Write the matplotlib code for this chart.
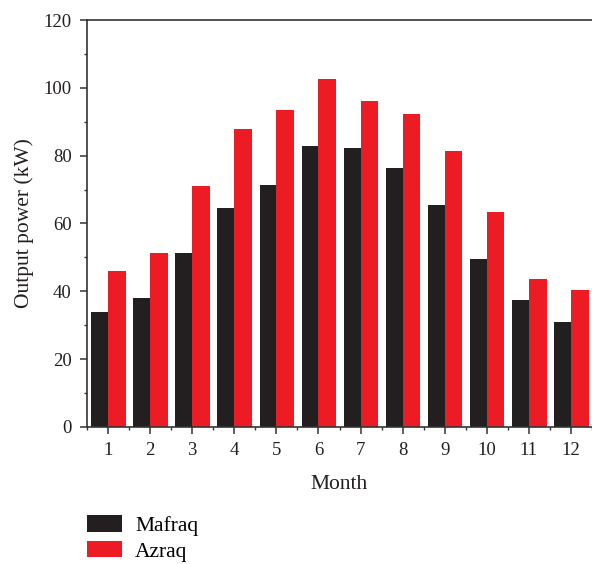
import numpy as np
import matplotlib
matplotlib.use("Agg")
import matplotlib.pyplot as plt
from matplotlib.ticker import MultipleLocator

# dane
months = [1, 2, 3, 4, 5, 6, 7, 8, 9, 10, 11, 12]
mafraq = [33.9, 38.0, 51.3, 64.6, 71.3, 82.8, 82.3, 76.4, 65.4, 49.5, 37.4, 31.0]
azraq = [46.0, 51.3, 71.0, 87.9, 93.5, 102.6, 96.1, 92.3, 81.4, 63.4, 43.6, 40.4]

plt.rcParams["font.family"] = ["Liberation Serif", "DejaVu Serif"]

fig = plt.figure(figsize=(5.92, 5.64), dpi=100)
ax = fig.add_axes([0.147, 0.243, 0.853, 0.7215])

x = np.array(months)
b1 = ax.bar(x, mafraq, width=-0.4, align="edge", color="#231f20", label="Mafraq")
b2 = ax.bar(x, azraq, width=0.42, align="edge", color="#ed1c24", label="Azraq")

ax.set_xlim(0.5, 12.5)
ax.set_ylim(0, 120)
ax.set_xticks(months)
ax.xaxis.set_minor_locator(MultipleLocator(1, offset=0.5))
ax.yaxis.set_major_locator(MultipleLocator(20))
ax.yaxis.set_minor_locator(MultipleLocator(10))

ax.spines["right"].set_visible(False)
for s in ["left", "bottom", "top"]:
    ax.spines[s].set_linewidth(1.2)
    ax.spines[s].set_color("#333333")

ax.tick_params(which="major", length=5, width=1.1, color="#333333",
               labelsize=13.5, labelcolor="#231f20", pad=6)
ax.tick_params(which="minor", length=2.5, width=1.0, color="#333333")

ax.set_xlabel("Month", fontsize=15.5, color="#231f20", labelpad=11)
ax.set_ylabel("Output power (kW)", fontsize=15.5, color="#231f20", labelpad=7)

# legenda pod wykresem
fig.legend(handles=[b1, b2], labels=["Mafraq", "Azraq"],
           loc="upper left", bbox_to_anchor=(0.147, 0.086),
           frameon=False, fontsize=15.5, handlelength=1.63, handleheight=0.8,
           handletextpad=0.6, labelspacing=0.22, borderpad=0, borderaxespad=0)

fig.savefig("out.png", dpi=100)
